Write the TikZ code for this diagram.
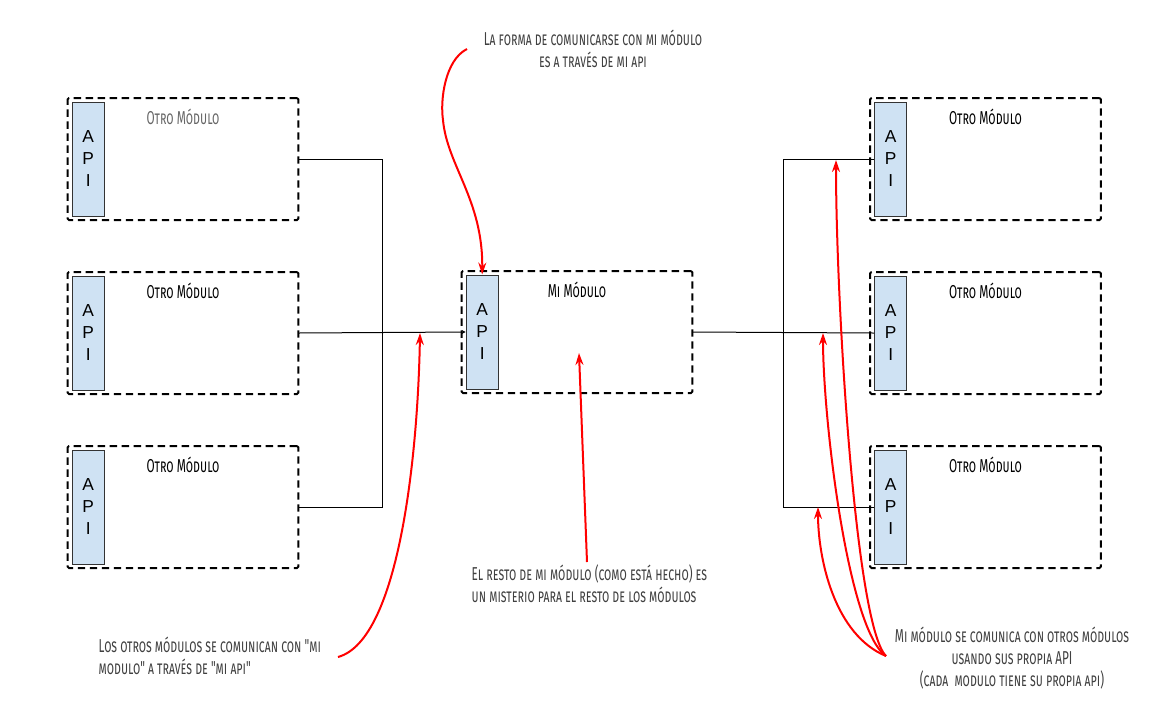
\documentclass[tikz,border=0pt]{standalone}
\usepackage{fontspec}
\setmainfont{Liberation Sans}
\newfontfamily\amatic[FakeStretch=0.63, Letters=SmallCaps]{Fira Sans}
\usetikzlibrary{positioning, arrows.meta}
\definecolor{apiazul}{RGB}{207,226,243}

\begin{document}
\begin{tikzpicture}[x=0.75pt, y=-0.75pt, node distance=39pt,
    modulo/.style={draw, dash pattern=on 5.5pt off 3.5pt, line width=1.5pt, rounded corners=1pt,
                   minimum width=173pt, minimum height=91.5pt, inner sep=0pt, outer sep=0pt},
    api/.style={draw=black!80, fill=apiazul, line width=0.75pt, minimum width=24pt, minimum height=85.5pt,
                inner sep=0pt, align=center, font=\fontsize{13}{16.5}\selectfont},
    titulo/.style={font=\amatic\fontsize{14}{16}\selectfont},
    nota/.style={font=\amatic\fontsize{14}{16.5}\selectfont, text=black!75, align=center},
    flecha/.style={red, line width=1.5pt, -{Stealth[length=9pt, width=6pt, inset=3pt]}}]
    \useasboundingbox (0,0) rectangle (1154,719);

    \node[modulo]                   (otro1) at (183,159) {};
    \node[modulo, below=of otro1]   (otro2) {};
    \node[modulo, below=of otro2]   (otro3) {};
    \node[modulo]                   (mi)    at (577,332) {};
    \node[modulo]                   (otro4) at (985.5,159) {};
    \node[modulo, below=of otro4]   (otro5) {};
    \node[modulo, below=of otro5]   (otro6) {};

    \node[api, right=3pt of otro1.west] (api1) {A\\P\\I};
    \node[api, right=3pt of otro2.west] (api2) {A\\P\\I};
    \node[api, right=3pt of otro3.west] (api3) {A\\P\\I};
    \node[api, right=3pt of otro4.west] (api4) {A\\P\\I};
    \node[api, right=3pt of otro5.west] (api5) {A\\P\\I};
    \node[api, right=3pt of otro6.west] (api6) {A\\P\\I};
    \node[api, right=3pt of mi.west]    (api mi) {A\\P\\I};

    \node[titulo, text=black!60, below=5pt of otro1.north] (titulo1) {Otro Módulo};
    \node[titulo, below=5pt of otro2.north] (titulo2) {Otro Módulo};
    \node[titulo, below=5pt of otro3.north] (titulo3) {Otro Módulo};
    \node[titulo, below=5pt of otro4.north] (titulo4) {Otro Módulo};
    \node[titulo, below=5pt of otro5.north] (titulo5) {Otro Módulo};
    \node[titulo, below=5pt of otro6.north] (titulo6) {Otro Módulo};
    \node[titulo, below=5pt of mi.north]    (titulo mi) {Mi Módulo};

    % conexiones
    \draw[line width=0.75pt] (otro1.east) -- ++(84,0) |- (otro3.east);
    \draw[line width=0.75pt, -{Stealth[length=3pt, width=3pt]}] (otro2.east) -- (api mi.west);
    \draw[line width=0.75pt] (mi.east) -- (api5.west);
    \draw[line width=0.75pt] (api4.west) -- ++(-91,0) |- (api6.west);

    % notas
    \node[nota]             (nota arriba) at (593,49)  {La forma de comunicarse con mi módulo\\es a través de mi api};
    \node[nota, align=left, anchor=west] (nota resto) at (467,584) {El resto de mi módulo (como está hecho) es\\un misterio para el resto de los módulos};
    \node[nota, align=left, anchor=west] (nota otros) at (94,656) {Los otros módulos se comunican con "mi\\modulo" a través de "mi api"};
    \node[nota]             (nota mi)     at (1012,658) {Mi módulo se comunica con otros módulos\\usando sus propia API\\(cada\ \ modulo tiene su propia api)};

    \coordinate (desde arriba) at (467,49);
    \coordinate (desde otros)  at (338,657);
    \coordinate (desde resto)  at (587,562);
    \coordinate (desde mi)     at (886,656);
    \coordinate (bus izq)      at (420,333);
    \coordinate (interior)     at (579,353);
    \coordinate (bus der1)     at (836,160);
    \coordinate (bus der2)     at (823,333);
    \coordinate (bus der3)     at (818,507);

    \draw[flecha] (desde arriba) .. controls (445,60) and (440,100) .. (443,120)
                                 .. controls (447,165) and (483,200) .. (api mi.north);
    \draw[flecha] (desde otros) .. controls (400,640) and (418,450) .. (bus izq);
    \draw[flecha] (desde resto) -- (interior);
    \draw[flecha] (desde mi) .. controls (855,625) and (836,300) .. (bus der1);
    \draw[flecha] (desde mi) .. controls (848,630) and (823,420) .. (bus der2);
    \draw[flecha] (desde mi) .. controls (835,635) and (818,560) .. (bus der3);
\end{tikzpicture}
\end{document}
